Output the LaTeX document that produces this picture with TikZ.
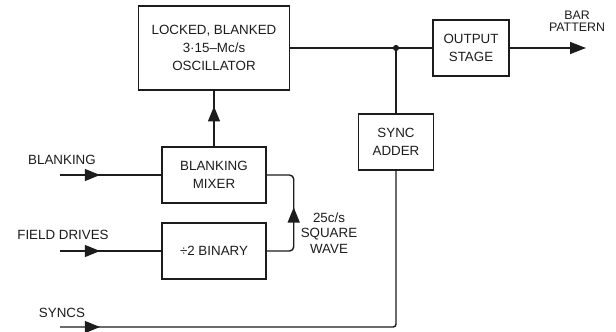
\documentclass[tikz,border=0pt]{standalone}
\usepackage{fontspec}
\setmainfont{Liberation Sans}
\usetikzlibrary{positioning,arrows.meta,decorations.markings}
\definecolor{ink}{HTML}{1C1C1C}

\begin{document}
\begin{tikzpicture}[x=0.025cm,y=-0.025cm,
  box/.style={draw=ink,line width=1pt,text=ink,align=center,inner sep=2pt,font=\fontsize{9.5}{12.8}\selectfont},
  lbl/.style={text=ink,align=center,inner sep=0pt,font=\fontsize{9.5}{11}\selectfont},
  wire/.style={draw=ink,line width=1pt},
  midarr/.style={postaction={decorate},decoration={markings,mark=at position #1 with {\arrow{Triangle[length=.38cm,width=.3cm]}}}}]
\useasboundingbox (0,0) rectangle (616,331);
\node[box,minimum width=3.775cm,minimum height=2.1cm] (osc) at (214,48){LOCKED, BLANKED\\3·15–Mc/s\\OSCILLATOR};
\node[box,minimum width=1.9cm,minimum height=1.4cm] (out) at (471,48){OUTPUT\\STAGE};
\node[box,minimum width=1.875cm,minimum height=1.4cm] (sync) at (396,142){SYNC\\ADDER};
\node[box,minimum width=2.6cm,minimum height=1.4cm] (mix) at (214,175){BLANKING\\MIXER};
\node[box,minimum width=2.6cm,minimum height=1.4cm] (bin) at (214,251){÷2 BINARY};
\coordinate (j) at (sync |- osc);
\coordinate (blin) at (60,175);
\coordinate (fdin) at (60,251);
\coordinate (syin) at (60,327);
\coordinate (barend) at (586,48);
% input and output labels
\node[lbl] (bllbl) at (62,160){BLANKING};
\node[lbl] (fdlbl) at (63,235){FIELD DRIVES};
\node[lbl] (sylbl) at (62,313){SYNCS};
\node[lbl,font=\fontsize{9.5}{10.8}\selectfont] (sqlbl) at (329,233){25c/s\\SQUARE\\WAVE};
\node[lbl,font=\fontsize{8.8}{8.6}\selectfont] (barlbl) at (577,21){BAR\\PATTERN};
% connectors
\draw[wire] (osc) -- (out);
\fill[ink] (j) circle (2.2pt);
\draw[wire] (sync) -- (j);
\draw[wire,-{Triangle[length=.4cm,width=.3cm]}] (out) -- (barend);
\draw[wire,midarr=1cm] (mix) -- (osc);
\draw[wire,midarr=1cm] (blin) -- (mix);
\draw[wire,midarr=1cm] (fdin) -- (bin);
\draw[wire,midarr=1.72cm,rounded corners=3pt] (bin.east) -- ++(27,0) |- (mix.east);
\draw[wire,midarr=1cm,rounded corners=2pt] (syin) -| (sync.south);
\end{tikzpicture}
\end{document}
